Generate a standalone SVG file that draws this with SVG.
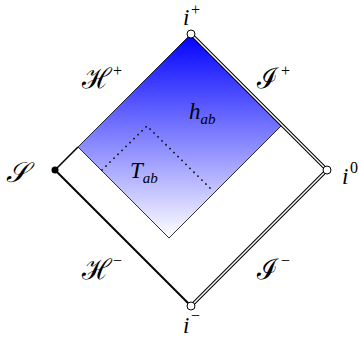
<svg xmlns="http://www.w3.org/2000/svg" width="359" height="338" viewBox="0 0 359 338">
<defs>
<linearGradient id="g" gradientUnits="userSpaceOnUse" x1="0" y1="34" x2="0" y2="238">
<stop offset="0" stop-color="#0000ff"/>
<stop offset="1" stop-color="#ffffff"/>
</linearGradient>
<style>
.lbl{font-family:"Liberation Serif","DejaVu Serif",serif;font-style:italic;fill:#000}
.scr{font-family:"DejaVu Serif","Noto Sans",serif;font-style:italic;fill:#000}
.sup{font-family:"Liberation Serif","DejaVu Serif",serif;fill:#000}
.dbl-o{stroke:#000;stroke-width:3.6;fill:none}
.dbl-i{stroke:#fff;stroke-width:1.4;fill:none}
.pt{fill:#fff;stroke:#000;stroke-width:1}
</style>
</defs>
<g id="region">
<polygon points="191,34 282,125 169,238 78,147" fill="url(#g)" stroke="#000" stroke-width="0.8"/>
</g>
<g id="connectors">
<line x1="55" y1="170" x2="78" y2="147" stroke="#000" stroke-width="1.6"/>
<line x1="55" y1="170" x2="191" y2="306" stroke="#000" stroke-width="2"/>
<line class="dbl-o" x1="191" y1="34" x2="327" y2="170"/>
<line class="dbl-i" x1="191" y1="34" x2="327" y2="170"/>
<line class="dbl-o" x1="327" y1="170" x2="191" y2="306"/>
<line class="dbl-i" x1="327" y1="170" x2="191" y2="306"/>
<polyline points="102,170 147,126 213,191" fill="none" stroke="#000" stroke-width="1.7" stroke-dasharray="0.1 5.5" stroke-linecap="round"/>
</g>
<g id="iplus"><circle class="pt" cx="191" cy="34" r="4"/><text class="lbl" x="183" y="25" font-size="23">i</text><text class="sup" x="191" y="15" font-size="16">+</text></g>
<g id="izero"><circle class="pt" cx="327" cy="170" r="4"/><text class="lbl" x="342" y="184" font-size="23">i</text><text class="sup" x="350" y="173" font-size="16">0</text></g>
<g id="iminus"><circle class="pt" cx="191" cy="306" r="4"/><text class="lbl" x="183" y="333" font-size="23">i</text><text class="sup" x="191" y="321" font-size="16">−</text></g>
<g id="scriS"><circle cx="55" cy="170" r="3.5" fill="#000"/><text class="scr" x="6" y="182" font-size="28">𝒮</text></g>
<g id="Hplus"><text class="scr" x="82" y="88" font-size="28">ℋ</text><text class="sup" x="113" y="76" font-size="16">+</text></g>
<g id="Iplus"><text class="scr" x="257" y="88" font-size="28">ℐ</text><text class="sup" x="281" y="76" font-size="16">+</text></g>
<g id="Hminus"><text class="scr" x="82" y="279" font-size="28">ℋ</text><text class="sup" x="113" y="266" font-size="16">−</text></g>
<g id="Iminus"><text class="scr" x="257" y="279" font-size="28">ℐ</text><text class="sup" x="281" y="266" font-size="16">−</text></g>
<g id="hab"><text class="lbl" x="189" y="119" font-size="23">h<tspan font-size="15" dy="5">ab</tspan></text></g>
<g id="Tab"><text class="lbl" x="130" y="178" font-size="23">T<tspan font-size="15" dy="5">ab</tspan></text></g>
</svg>
